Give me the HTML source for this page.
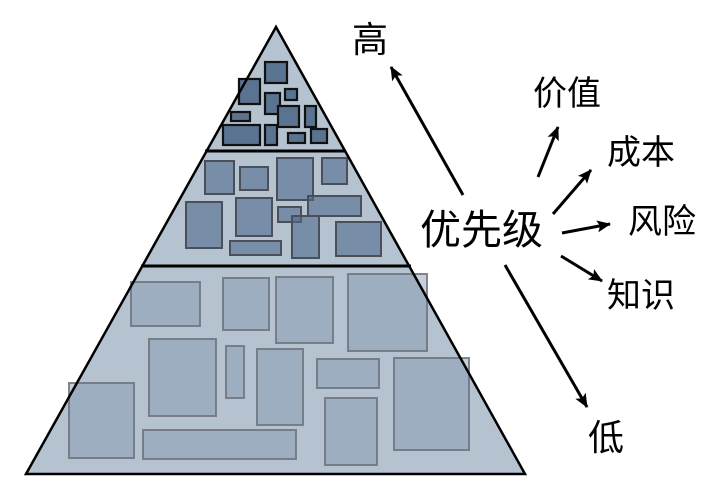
<!DOCTYPE html>
<html><head><meta charset="utf-8"><style>
html,body{margin:0;padding:0;background:#fff;width:704px;height:502px;overflow:hidden}
svg text{font-family:"Liberation Sans","Noto Sans CJK SC",sans-serif;fill:#000}
</style></head><body>
<svg width="704" height="502" viewBox="0 0 704 502" xmlns="http://www.w3.org/2000/svg">
<defs>
<marker id="a" viewBox="0 0 14 12" refX="13" refY="6" markerWidth="14" markerHeight="12" orient="auto" markerUnits="userSpaceOnUse">
<path d="M0,0 L14,6 L0,12 L3,6 z" fill="#000"/>
</marker>
</defs>
<polygon points="276,27 26,474 525,474" fill="#b5c2d0"/>
<g fill="#5a7391" stroke="#111" stroke-width="2.2">
<rect x="265" y="62" width="22" height="21"/>
<rect x="239" y="79" width="21" height="25"/>
<rect x="265" y="93" width="15" height="21"/>
<rect x="285" y="89" width="12" height="11"/>
<rect x="278" y="106" width="21" height="21"/>
<rect x="305" y="106" width="11" height="21"/>
<rect x="231" y="112" width="19" height="9"/>
<rect x="223" y="125" width="37" height="20"/>
<rect x="265" y="125" width="12" height="20"/>
<rect x="288" y="133" width="17" height="10"/>
<rect x="311" y="129" width="16" height="14"/>
</g>
<g fill="rgba(80,105,140,0.6)" stroke="#4a4f58" stroke-width="2">
<rect x="205" y="161" width="29" height="33"/>
<rect x="240" y="167" width="28" height="23"/>
<rect x="277" y="158" width="36" height="42"/>
<rect x="322" y="158" width="25" height="26"/>
<rect x="186" y="202" width="36" height="46"/>
<rect x="236" y="198" width="36" height="38"/>
<rect x="278" y="207" width="23" height="15"/>
<rect x="308" y="196" width="53" height="20"/>
<rect x="292" y="216" width="27" height="42"/>
<rect x="336" y="222" width="45" height="34"/>
<rect x="230" y="241" width="51" height="14"/>
</g>
<g fill="rgba(130,150,175,0.45)" stroke="rgba(110,115,125,0.85)" stroke-width="2">
<rect x="131" y="282" width="69" height="44"/>
<rect x="223" y="278" width="46" height="52"/>
<rect x="276" y="277" width="57" height="66"/>
<rect x="348" y="274" width="79" height="77"/>
<rect x="149" y="339" width="67" height="77"/>
<rect x="226" y="346" width="18" height="52"/>
<rect x="257" y="349" width="46" height="76"/>
<rect x="317" y="359" width="62" height="29"/>
<rect x="394" y="358" width="75" height="92"/>
<rect x="69" y="383" width="65" height="75"/>
<rect x="143" y="430" width="153" height="29"/>
<rect x="325" y="398" width="52" height="67"/>
</g>
<polygon points="276,27 26,474 525,474" fill="none" stroke="#000" stroke-width="2.5"/>
<line x1="205" y1="151" x2="345" y2="151" stroke="#000" stroke-width="3"/>
<line x1="141" y1="266" x2="411" y2="266" stroke="#000" stroke-width="3"/>
<g stroke="#000" stroke-width="3" marker-end="url(#a)">
<line x1="463" y1="195" x2="391" y2="67"/>
<line x1="538" y1="177" x2="558" y2="127"/>
<line x1="553" y1="214" x2="591" y2="170"/>
<line x1="562" y1="233" x2="610" y2="224"/>
<line x1="561" y1="256" x2="602" y2="281"/>
<line x1="505" y1="265" x2="587" y2="407"/>
</g>
<text x="352" y="52" font-size="36">高</text>
<text x="420" y="244" font-size="41">优先级</text>
<text x="533" y="105" font-size="34">价值</text>
<text x="607" y="164" font-size="34">成本</text>
<text x="628" y="233" font-size="34">风险</text>
<text x="607" y="307" font-size="34">知识</text>
<text x="588" y="450" font-size="36">低</text>
</svg>
</body></html>
